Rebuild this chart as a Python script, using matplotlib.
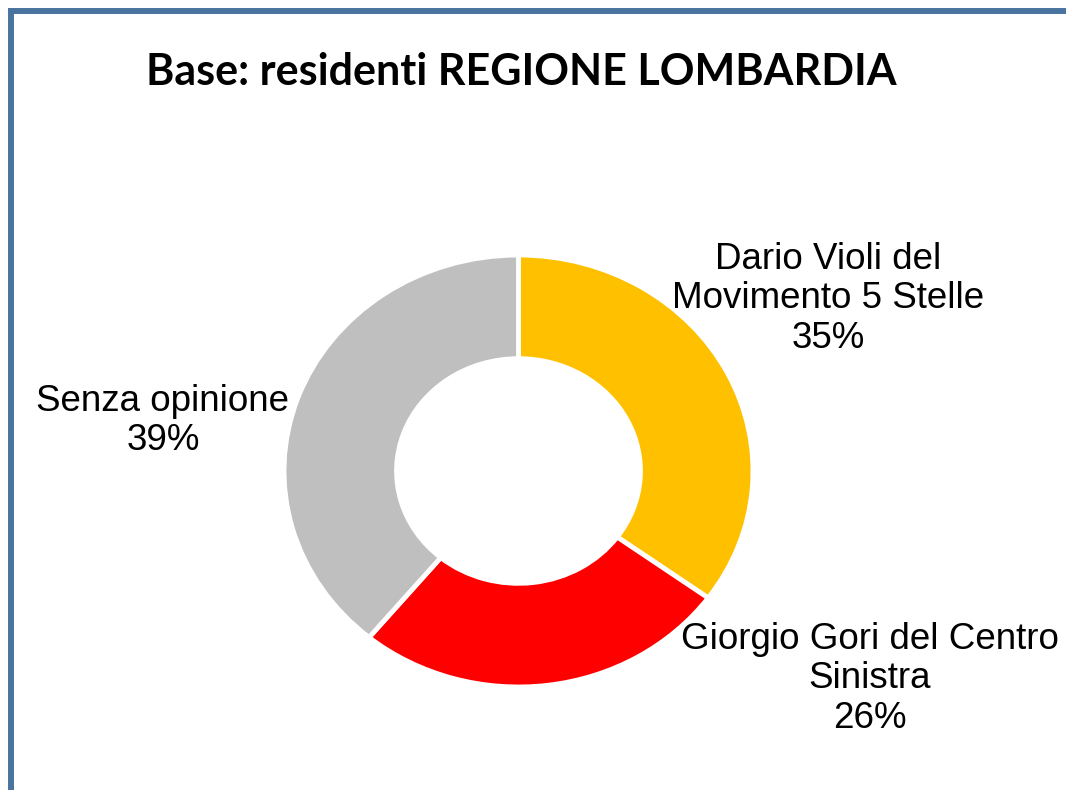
import matplotlib
matplotlib.use("Agg")
import matplotlib.pyplot as plt
from matplotlib.patches import Rectangle

title = "Base: residenti REGIONE LOMBARDIA"
categories = ["Dario Violi del\nMovimento 5 Stelle", "Giorgio Gori del Centro\nSinistra", "Senza opinione"]
values = [35, 26, 39]
colors = ["#FFC000", "#FF0000", "#BFBFBF"]

W, H = 1066, 790
fig = plt.figure(figsize=(W / 100, H / 100), dpi=100)
fig.patch.set_facecolor("white")

# donut axes (elliptical, as in the reference)
left, right, top, bottom = 284, 753, 255, 687
ax = fig.add_axes([left / W, 1 - bottom / H, (right - left) / W, (bottom - top) / H])
wedges, _ = ax.pie(values, colors=colors, startangle=90, counterclock=False,
                   radius=1.0, wedgeprops=dict(width=0.48, edgecolor="white", linewidth=3.5))
ax.set_aspect("auto")
ax.set_xlim(-1, 1)
ax.set_ylim(-1, 1)
ax.axis("off")

# labels
label_pos = [(828, 299), (870, 679), (163, 421)]
for cat, v, (px, py) in zip(categories, values, label_pos):
    fig.text(px / W, 1 - py / H, f"{cat}\n{v}%", ha="center", va="center",
             fontsize=26.5, family="Liberation Sans", color="black", linespacing=1.15)

# title
fig.text(521 / W, 1 - 72 / H, title, ha="center", va="center",
         fontsize=31, fontweight="bold", family="Lato", color="black")

# frame border (left + top visible)
fig.add_artist(Rectangle((11 / W, -0.5), 2, 1.5 - 11 / H, transform=fig.transFigure,
                         fill=False, edgecolor="#4A74A0", linewidth=4.3))

fig.savefig("out.png", dpi=100, facecolor="white")
